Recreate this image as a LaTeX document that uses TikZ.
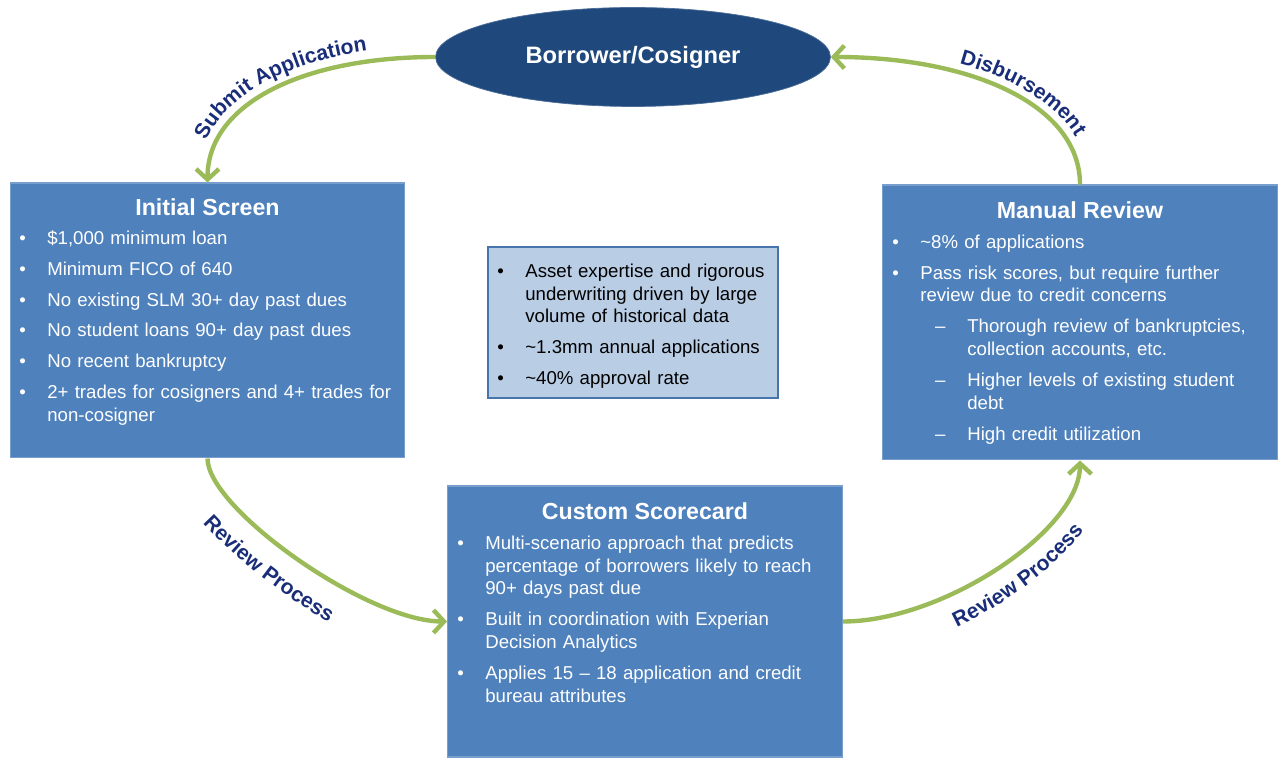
\documentclass[tikz,border=0pt]{standalone}
\usepackage{fontspec}
\setmainfont{Liberation Sans}
\usepackage{enumitem}
\usetikzlibrary{shapes.geometric,arrows.meta,positioning,decorations.text}
\definecolor{boxBlue}{RGB}{79,129,189}
\definecolor{boxEdge}{RGB}{120,158,206}
\definecolor{lightBlue}{RGB}{185,205,229}
\definecolor{darkBlue}{RGB}{31,73,125}
\definecolor{arrowGreen}{RGB}{155,187,89}
\definecolor{labelBlue}{RGB}{25,45,120}
\newcommand{\labelfont}{\fontsize{12}{14}\selectfont\bfseries\color{labelBlue}}
\setlist[itemize]{label=\textbullet, leftmargin=0.56cm, labelsep=0.43cm, topsep=0pt, partopsep=0pt, parsep=0pt, itemsep=4.6pt}
\begin{document}
\begin{tikzpicture}
        [x=0.02cm, y=0.02cm,
        box/.style={rectangle, draw=boxEdge, line width=0.6pt, fill=boxBlue, minimum width=7.9cm},
        title/.style={text=white, font=\fontsize{13.2}{15}\selectfont\bfseries},
        list/.style={anchor=north west, inner sep=0, align=left, text=white, font=\fontsize{10.6}{13}\selectfont},
        flow/.style={arrowGreen, line width=2.5pt, -{Straight Barb[length=6pt, width=13pt, line width=2.5pt]}},
        step label/.style={decorate, decoration={text along path, text={|\labelfont|#1}}}]
        \useasboundingbox (0,0) rectangle (1283,757);
        
        \node[ellipse, fill=darkBlue, draw=darkBlue!80, minimum width=7.9cm, minimum height=1.98cm, text=white, font=\fontsize{13.5}{16}\selectfont\bfseries] (bc) at (633,700) {Borrower/Cosigner};
        
        \node[box, minimum height=5.5cm] (init) at (207.5,436.5) {};
        \node[box, minimum height=5.5cm] (manual) at (1080,434.5) {};
        \node[box, minimum height=5.42cm] (custom) at (645,135.5) {};
        \node[rectangle, draw=boxBlue!90!black, line width=1pt, fill=lightBlue, minimum width=5.8cm, minimum height=3.02cm] (facts) at (633,434.5) {};
        
        % initial screen
        \node[title] (initT) at (207.5,550) {Initial Screen};
        \node[list, text width=7.7cm] (initL) at (19,536) {%
            \begin{itemize}
            \item \$1,000 minimum loan
            \item Minimum FICO of 640
            \item No existing SLM 30+ day past dues
            \item No student loans 90+ day past dues
            \item No recent bankruptcy
            \item 2+ trades for cosigners and 4+ trades for non-cosigner
            \end{itemize}};
        
        % manual review
        \node[title] (manualT) at (1080,547) {Manual Review};
        \node[list, text width=7.3cm] (manualL) at (892,532) {%
            \begin{itemize}
            \item \textasciitilde8\% of applications
            \item Pass risk scores, but require further review due to credit concerns
                \begin{itemize}[label=--, leftmargin=0.94cm, labelsep=0.44cm, topsep=4.6pt]
                \item Thorough review of bankruptcies, collection accounts, etc.
                \item Higher levels of existing student debt
                \item High credit utilization
                \end{itemize}
            \end{itemize}};
        
        % custom scorecard
        \node[title] (customT) at (645,246) {Custom Scorecard};
        \node[list, text width=7.4cm] (customL) at (457,231) {%
            \begin{itemize}
            \item Multi-scenario approach that predicts percentage of borrowers likely to reach 90+ days past due
            \item Built in coordination with Experian Decision Analytics
            \item Applies 15 -- 18 application and credit bureau attributes
            \end{itemize}};
        
        % centre box
        \node[list, text=black, text width=5.66cm] (factsL) at (497,503) {%
            \begin{itemize}
            \item Asset expertise and rigorous underwriting driven by large volume of historical data
            \item \textasciitilde1.3mm annual applications
            \item \textasciitilde40\% approval rate
            \end{itemize}};
        
        \draw[flow] (bc.west) .. controls +(-130,0) and +(0,80) .. (init.north);
        \draw[flow] (manual.north) .. controls +(0,80) and +(140,0) .. (bc.east);
        \draw[flow] (init.south) .. controls +(0,-50) and +(-80,0) .. (custom.west);
        \draw[flow] (custom.east) .. controls +(100,0) and +(0,-70) .. (manual.south);
        
        % labels follow the arcs
        \path[step label={Submit Application}, decoration={text align={center, right indent=0.5cm}}] ([xshift=-0.22cm]init.north) .. controls +(0,85) and +(-135,0) .. ([yshift=0.22cm]bc.west);
        \path[step label={Disbursement}, decoration={text align={center, left indent=1.6cm}}] ([yshift=0.18cm]bc.east) .. controls +(145,0) and +(0,85) .. ([xshift=0.18cm]manual.north);
        \path[step label={Review Process}, decoration={text align={center, right indent=1.0cm}}] ([xshift=-0.85cm]init.south) .. controls +(0,-60) and +(-95,0) .. ([yshift=-0.85cm]custom.west);
        \path[step label={Review Process}, decoration={text align={center, left indent=0.8cm}}] ([yshift=-0.7cm]custom.east) .. controls +(115,0) and +(0,-80) .. ([xshift=0.7cm]manual.south);
    
    \end{tikzpicture}
\end{document}
